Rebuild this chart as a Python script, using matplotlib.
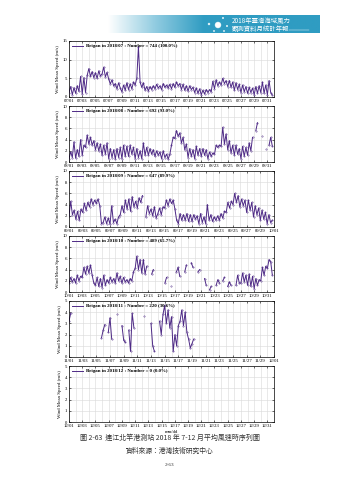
import numpy as np
import pandas as pd
import matplotlib
matplotlib.use("Agg")
import matplotlib.pyplot as plt
from matplotlib.colors import LinearSegmentedColormap
from matplotlib.patches import Circle

nan = np.nan

station = "Beigan"
months = ["2018-07", "2018-08", "2018-09", "2018-10", "2018-11", "2018-12"]
month_days = [31, 31, 30, 31, 30, 31]
counts = [744, 692, 647, 489, 220, 0]
percents = [100.0, 93.0, 89.9, 65.7, 30.6, 0.0]
ymax = [15, 10, 10, 10, 5, 5]
ystep = [5, 2, 2, 2, 1, 1]

# mean wind speed (m/s), four readings a day: 00, 06, 12, 18 h
jul = [1.2, 2.8, 0.6, 2.5,  1.0, 3.0, 1.5, 5.5,  0.8, 5.2, 1.2, 5.8,
       7.6, 5.5, 6.8, 5.2,  6.5, 5.0, 7.0, 5.6,  6.2, 8.0, 5.4, 6.6,
       4.8, 3.5, 4.6, 3.0,  3.6, 2.2, 3.8, 2.4,  1.4, 3.2, 1.8, 3.8,
       2.0, 3.5, 2.2, 4.0,  3.2, 5.0, 13.5, 4.0, 2.6, 3.8, 1.8, 2.8,
       1.6, 2.8, 2.0, 3.0,  2.2, 3.4, 2.4, 3.0,  2.0, 3.6, 2.6, 3.2,
       2.4, 3.4, 2.2, 3.6,  2.6, 4.0, 3.0, 3.6,  2.0, 3.4, 1.8, 3.0,
       1.6, 3.0, 2.0, 2.6,  1.2, 2.4, 1.0, 2.2,  0.6, 1.8, 0.8, 2.0,
       1.2, 2.0, 1.4, 4.2,  2.2, 4.6, 3.0, 4.0,  3.2, 5.0, 3.6, 4.4,
       2.8, 4.4, 2.6, 4.0,  1.8, 3.8, 2.0, 3.4,  1.2, 3.2, 1.4, 2.8,
       1.0, 2.6, 1.2, 2.4,  0.6, 2.8, 1.0, 3.0,  1.2, 4.0, 1.0, 3.2,
       0.6, 4.4, 1.2, 0.5]

aug = [0.6, 1.8, 0.8, 3.6,  0.7, 2.2, 1.0, 4.0,  1.2, 3.0, 2.6, 4.8,
       3.2, 4.4, 3.0, 3.8,  2.2, 3.4, 2.0, 3.2,  1.2, 3.0, 1.4, 3.4,
       0.6, 2.4, 0.8, 2.2,  0.5, 2.4, 0.8, 2.6,  0.6, 3.0, 1.0, 2.8,
       1.0, 3.0, 1.4, 2.6,  0.6, 2.4, 0.8, 2.0,  0.6, 3.4, 1.2, 2.6,
       1.2, 2.4, 1.4, 2.2,  1.0, 2.0, 1.2, 1.8,  0.6, 2.0, 0.8, 1.4,
       0.5, 1.4, 3.0, 4.4,  4.2, 5.6, 4.6, 5.2,  3.4, 4.4, 2.2, 3.2,
       0.8, 2.4, 1.0, 2.2,  0.6, 2.8, 1.2, 2.4,  1.0, 2.4, 1.2, 2.2,
       0.6, 1.8, 1.0, 1.6,  1.4, 3.0, 2.6, 3.0,  2.8, 6.2, 3.2, 5.0,
       2.2, 3.8, 1.6, 3.0,  1.2, 3.0, 1.4, 2.4,  0.6, 2.8, 1.0, 2.6,
       1.2, 3.4, 2.0, 4.4,  nan, 5.6, 7.0, nan,  nan, 4.6, nan, 2.4,
       nan, 3.0, 4.4, 2.8]

sep = [2.0, 4.6, 2.2, 3.0,  1.4, 2.8, 1.2, 3.2,  2.6, 4.2, 3.0, 4.4,
       3.6, 5.0, 4.0, 4.8,  4.2, 5.0, 3.8, 0.6,  0.8, 1.8, 0.6, 1.6,
       0.5, 3.8, 0.8, 1.4,  0.6, 1.8, 2.2, 3.8,  2.6, 4.8, 3.2, 5.0,
       2.8, 5.4, 3.6, 4.6,  3.4, 5.2, 4.4, 5.6,  nan, 1.8, 3.8, 2.4,
       3.2, 2.0, 3.6, 1.6,  2.4, 3.4, 2.2, 3.6,  3.4, 4.8, 3.8, 5.0,
       4.2, 4.8, 3.2, 1.2,  0.6, 2.4, 1.2, 2.2,  1.2, 2.4, 1.0, 2.2,
       1.0, 2.2, 1.4, 2.0,  0.6, 2.4, 0.8, 1.8,  0.6, 4.0, 1.2, 2.2,
       1.0, 1.8, 1.2, 2.0,  1.2, 2.4, 1.6, 2.8,  2.6, 4.4, 3.4, 4.6,
       4.0, 6.0, 4.4, 5.6,  3.6, 5.0, 3.8, 4.8,  2.6, 4.8, 3.0, 4.4,
       1.8, 3.8, 2.2, 3.4,  1.2, 3.0, 1.4, 2.6,  0.6, 2.2, 0.8, 1.2]

oct_ = [1.6, 2.6, 1.8, 2.4,  1.6, 3.0, 2.0, 2.8,  2.6, 4.4, 3.2, 4.6,
        3.4, 4.8, 3.0, 1.6,  1.2, 2.6, 1.0, 2.4,  0.8, 3.0, 1.2, 2.2,
        1.6, 2.6, 1.8, 2.4,  1.6, 3.4, 2.0, 2.8,  1.6, 2.6, 1.8, 2.2,
        1.6, 2.4, 2.0, 3.6,  4.2, 6.4, 4.0, 5.8,  3.4, 5.8, 3.2, 4.6,
        nan, nan, 3.2, 4.0,  nan, nan, nan, nan,  nan, nan, 1.6, 2.6,
        nan, nan, 1.0, nan,  nan, 3.6, 4.4, 2.8,  nan, nan, 3.6, 4.8,
        nan, nan, 5.2, 4.4,  nan, nan, 3.6, 4.0,  nan, nan, 2.4, 1.2,
        nan, 0.4, 1.0, nan,  nan, 1.2, 2.2, 1.6,  nan, 2.0, 2.6, nan,
        1.0, 1.8, 1.2, nan,  nan, 1.2, 3.0, 1.6,  1.6, 3.4, 1.8, 3.0,
        1.2, 3.2, 1.0, 2.8,  0.6, 2.4, 1.2, 2.2,  2.0, 4.4, 3.0, 4.6,
        4.2, 5.8, 5.4, 3.0]

nov = [3.2, 3.9, nan, nan,  nan, nan, nan, nan,  nan, nan, nan, nan,
       nan, nan, nan, nan,  nan, nan, nan, 1.7,  2.4, 2.9, nan, 2.2,
       3.5, 1.6, nan, nan,  3.8, nan, nan, 2.8,  1.5, 1.3, nan, 2.4,
       0.5, 3.9, 2.6, nan,  nan, nan, nan, nan,  3.7, nan, nan, nan,
       3.0, 1.0, 0.5, nan,  nan, 3.2, 2.0, 3.8,  4.6, 3.0, 4.2, 2.6,
       3.6, 0.5, 2.0, 1.0,  2.8, 3.2, 4.2, 2.8,  4.0, 2.2, 1.6, 0.8,
       1.2, 1.6, nan, nan,  nan, nan, nan, nan,  nan, nan, nan, nan,
       nan, nan, nan, nan,  nan, nan, nan, nan,  nan, nan, nan, nan,
       nan, nan, nan, nan,  nan, nan, nan, nan,  nan, nan, nan, nan,
       nan, nan, nan, nan,  nan, nan, nan, nan,  nan, nan, nan, nan]

dec = [nan] * (31 * 4)

series = [jul, aug, sep, oct_, nov, dec]

plt.rcParams["font.family"] = ["Liberation Serif", "DejaVu Serif"]
line_color = "#4e2a86"

fig = plt.figure(figsize=(3.39, 4.8), dpi=100)
W, H = 339, 480

def px_axes(x0, y0, w, h):
    return fig.add_axes([x0 / W, 1 - (y0 + h) / H, w / W, h / H])

# header banner
hdr = px_axes(103, 15, 217, 18)
grad = np.clip(np.linspace(-0.05, 2.2, 300), 0, 1)[None, :]
cmap = LinearSegmentedColormap.from_list("band", ["#ffffff", "#8fcbe0", "#2f9cc2"])
hdr.imshow(grad, aspect="auto", cmap=cmap, extent=[0, 217, 18, 0])
hdr.set_xlim(0, 217)
hdr.set_ylim(18, 0)
hdr.axis("off")
for cx, cy, r in [(115, 10, 3.0), (106, 9, 1.0), (120, 3, 0.8), (124, 11, 0.8), (111, 16, 0.7), (121, 16, 0.7)]:
    hdr.add_patch(Circle((cx, cy), r, facecolor="white", edgecolor="#dff2f8", lw=0.3))
cjk = ["Noto Sans CJK TC", "DejaVu Sans"]
hdr.text(129, 6.5, "2018年臺灣海域風力", color="white", fontsize=4.6, family=cjk, va="center")
hdr.text(129, 13.5, "觀測資料月統計年報", color="white", fontsize=4.6, family=cjk, va="center")
hdr.plot([186, 206], [14.5, 14.5], color="white", lw=0.3)

for i, month in enumerate(months):
    start = pd.Timestamp(month + "-01")
    nd = month_days[i]
    t = pd.date_range(start, periods=nd * 4, freq="6h")
    ax = px_axes(69, 41 + 65 * i, 205, 56)
    ax.plot(t, series[i], color=line_color, lw=0.7, marker=".", ms=0.6)
    ax.set_xlim(start, start + pd.Timedelta(days=nd))
    ax.set_ylim(0, ymax[i])
    ax.set_yticks(np.arange(0, ymax[i] + 0.1, ystep[i]))
    major = pd.date_range(start, start + pd.Timedelta(days=nd), freq="2D")
    minor = pd.date_range(start, start + pd.Timedelta(days=nd), freq="1D")
    ax.set_xticks(major)
    ax.set_xticklabels([d.strftime("%m/%d") for d in major])
    ax.set_xticks(minor, minor=True)
    ax.grid(True, which="both", color="#d9d9d9", lw=0.4)
    ax.set_axisbelow(True)
    ax.tick_params(labelsize=3.4, length=1.5, width=0.4, direction="in", pad=1.5, top=True, right=True)
    ax.tick_params(which="minor", length=0, top=True)
    for s in ax.spines.values():
        s.set_linewidth(0.5)
    ax.set_ylabel("Wind Mean Speed (m/s)", fontsize=3.5, labelpad=1.5)
    label = "%s in %s : Number = %d (%.1f%%)" % (station, start.strftime("%Y/%m"), counts[i], percents[i])
    ax.plot([], [], color=line_color, lw=0.7, label=label)
    ax.legend(loc="upper left", frameon=False, handlelength=2.2,
              handletextpad=0.6, borderaxespad=0.2, prop={"weight": "bold", "size": 3.5})
    if i == len(months) - 1:
        ax.set_xlabel("mm/dd", fontsize=3.4, labelpad=1.5)

fig.text(170 / W, 1 - 438 / H, "圖 2-63  連江北竿港測站 2018 年 7-12 月平均風速時序列圖",
         fontsize=5.0, family=cjk, ha="center", va="center", color="#333333")
fig.text(170 / W, 1 - 451 / H, "資料來源：港灣技術研究中心",
         fontsize=4.9, family=cjk, ha="center", va="center", color="#333333")
fig.text(170 / W, 1 - 465 / H, "2-63", fontsize=3.8, ha="center", va="center", color="#333333")

fig.savefig("out.png", dpi=100, facecolor="white")
